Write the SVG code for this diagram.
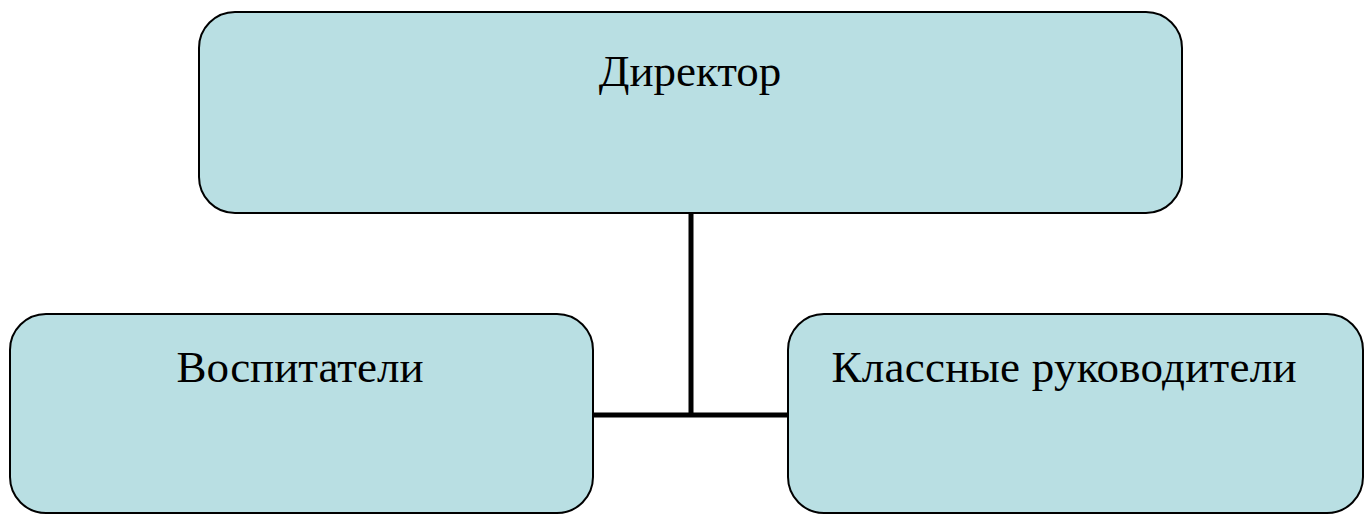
<svg xmlns="http://www.w3.org/2000/svg" width="1365" height="514" viewBox="0 0 1365 514">
<style>
.box{fill:#B9DFE3;stroke:#000;stroke-width:2}
.lbl{font-family:"Liberation Serif","Times New Roman",serif;font-size:45px;fill:#000;text-anchor:middle}
.conn{stroke:#000;stroke-width:5;fill:none}
</style>
<rect width="1365" height="514" fill="#fff"/>
<g id="connectors">
<line class="conn" x1="691" y1="213" x2="691" y2="415"/>
<line class="conn" x1="593" y1="415" x2="788" y2="415"/>
</g>
<g id="director">
<rect class="box" x="199" y="12" width="983" height="201" rx="36" ry="36"/>
<text class="lbl" x="690" y="86">Директор</text>
</g>
<g id="educators">
<rect class="box" x="10" y="314" width="583" height="199" rx="36" ry="36"/>
<text class="lbl" x="300" y="382">Воспитатели</text>
</g>
<g id="class-teachers">
<rect class="box" x="788" y="314" width="575" height="199" rx="36" ry="36"/>
<text class="lbl" x="1064" y="382" textLength="465">Классные руководители</text>
</g>
</svg>
